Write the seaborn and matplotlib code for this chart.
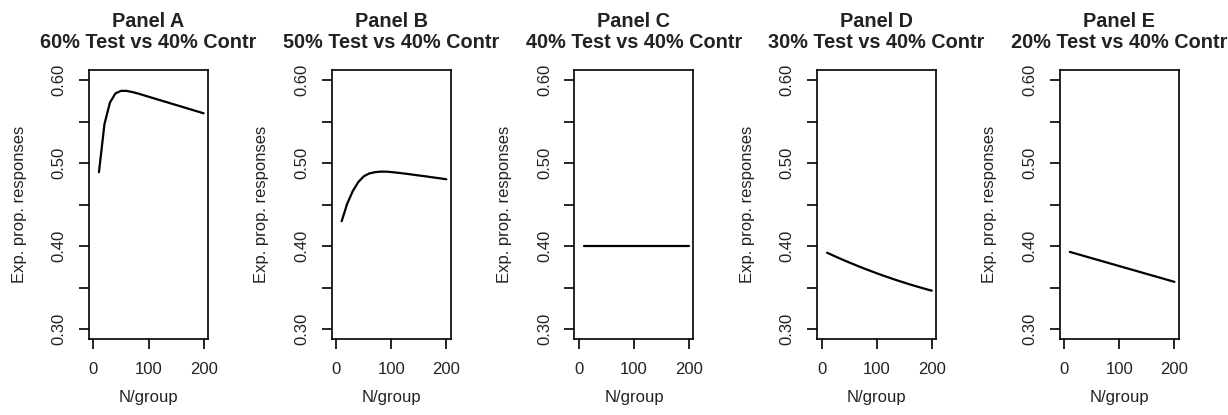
import numpy as np
import pandas as pd
import matplotlib
matplotlib.use("Agg")
import matplotlib.pyplot as plt
import seaborn as sns

# ---- data ----
n_group = [10, 20, 30, 40, 50, 60, 70, 80, 90, 100,
           110, 120, 130, 140, 150, 160, 170, 180, 190, 200]

panel_a = [0.489, 0.547, 0.573, 0.584, 0.587, 0.587, 0.5857, 0.584, 0.582, 0.580,
           0.578, 0.576, 0.574, 0.572, 0.570, 0.568, 0.566, 0.564, 0.562, 0.560]
panel_b = [0.430, 0.451, 0.466, 0.477, 0.484, 0.4875, 0.489, 0.4897, 0.4897, 0.4892,
           0.4885, 0.4877, 0.4869, 0.4860, 0.4851, 0.4843, 0.4833, 0.4824, 0.4815, 0.4805]
panel_c = [0.400] * 20
panel_d = [0.392, 0.389, 0.386, 0.3831, 0.3803, 0.3776, 0.3749, 0.3723, 0.3698, 0.3673,
           0.3649, 0.3626, 0.3603, 0.3581, 0.3560, 0.3539, 0.3519, 0.3500, 0.3481, 0.3463]
panel_e = [0.3930, 0.3911, 0.3892, 0.3873, 0.3854, 0.3835, 0.3816, 0.3797, 0.3778, 0.3759,
           0.3740, 0.3721, 0.3702, 0.3683, 0.3664, 0.3645, 0.3626, 0.3607, 0.3588, 0.3569]

titles = ["Panel A\n60% Test vs 40% Contr",
          "Panel B\n50% Test vs 40% Contr",
          "Panel C\n40% Test vs 40% Contr",
          "Panel D\n30% Test vs 40% Contr",
          "Panel E\n20% Test vs 40% Contr"]
series = [panel_a, panel_b, panel_c, panel_d, panel_e]

x_ticks = [0, 100, 200]
y_ticks = [0.30, 0.35, 0.40, 0.45, 0.50, 0.55, 0.60]
y_tick_labels = ["0.30", "", "0.40", "", "0.50", "", "0.60"]

# ---- style ----
sns.set_style("ticks")
plt.rcParams['font.family'] = ['Liberation Sans', 'DejaVu Sans']
plt.rcParams['axes.linewidth'] = 1.2
plt.rcParams['xtick.major.width'] = 1.2
plt.rcParams['ytick.major.width'] = 1.2

fig, axes = plt.subplots(1, 5, figsize=(12.28, 4.15), dpi=100)
fig.subplots_adjust(left=0.0725, right=0.96, bottom=0.183, top=0.831, wspace=1.04)

for ax, vals, title in zip(axes, series, titles):
    df = pd.DataFrame({'N': n_group, 'prop': vals})
    sns.lineplot(data=df, x='N', y='prop', ax=ax, color='black', linewidth=1.6)

    ax.set_xlim(-8, 208)
    ax.set_ylim(0.288, 0.612)
    ax.set_xticks(x_ticks)
    ax.set_yticks(y_ticks)
    ax.set_yticklabels(y_tick_labels)
    ax.tick_params(axis='both', direction='out', length=7.2, labelsize=12,
                   colors='black', labelcolor='#222222')
    ax.tick_params(axis='y', labelrotation=90, pad=9)
    ax.tick_params(axis='x', pad=9)
    for lab in ax.get_yticklabels():
        lab.set_va('center')

    for sp in ax.spines.values():
        sp.set_visible(True)
        sp.set_color('black')

    ax.set_xlabel('N/group', fontsize=12, labelpad=10, color='#222222')
    ax.set_ylabel('Exp. prop. responses', fontsize=12, labelpad=18, color='#222222')
    ax.set_title(title, fontsize=14.3, fontweight='bold', pad=16, linespacing=1.1,
                 color='#222222')

fig.savefig('out.png', dpi=100)
